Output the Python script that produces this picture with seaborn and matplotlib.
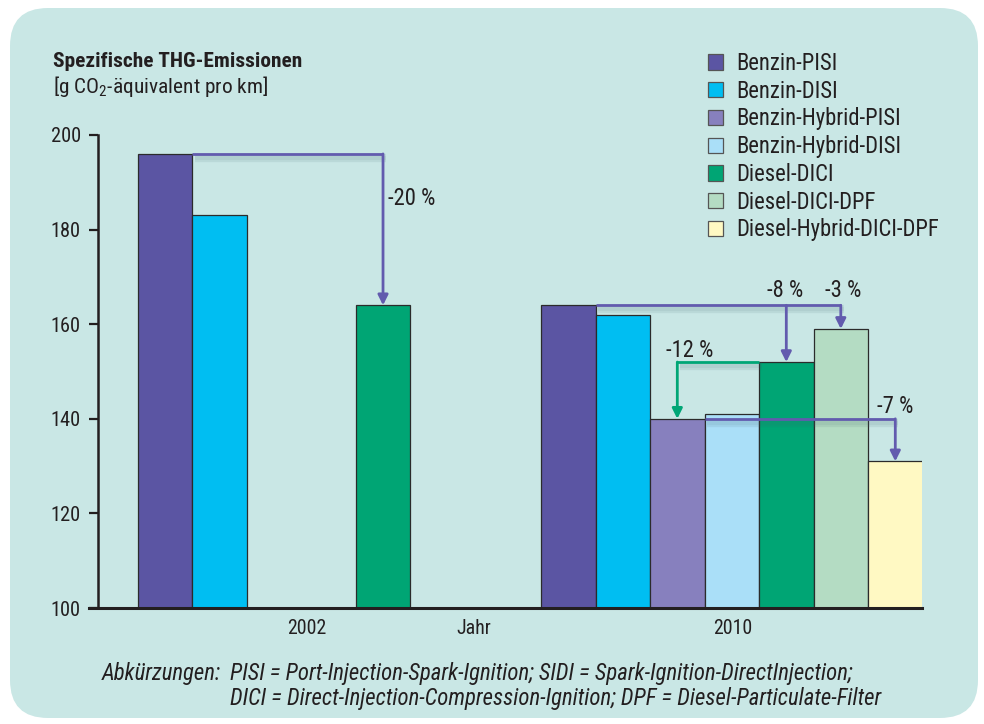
import matplotlib
matplotlib.use("Agg")
import matplotlib.pyplot as plt
import matplotlib.patheffects as pe
from matplotlib.patches import FancyBboxPatch, Patch
from matplotlib import font_manager
from matplotlib.font_manager import FontProperties
from matplotlib.textpath import TextPath
import numpy as np
import pandas as pd
import seaborn as sns

# ---------------- data ----------------
types = ["Benzin-PISI", "Benzin-DISI", "Benzin-Hybrid-PISI", "Benzin-Hybrid-DISI",
         "Diesel-DICI", "Diesel-DICI-DPF", "Diesel-Hybrid-DICI-DPF"]
colors = ["#5B55A3", "#00BEF2", "#8780BE", "#AADFF8", "#00A574", "#B4DCC3", "#FFF9C3"]
values_2002 = [196, 183, None, None, 164, None, None]
values_2010 = [164, 162, 140, 141, 152, 159, 131]
year_labels = ["2002", "Jahr", "2010"]
y_ticks = [100, 120, 140, 160, 180, 200]
pct_labels = ["-20 %", "-8 %", "-3 %", "-12 %", "-7 %"]

# ---------------- fonts ----------------
sns.set_theme(style="white")
tt = font_manager.fontManager.ttflist
chosen = None
for key in ["liberationsansnarrow", "robotocondensed", "notosanscondensed",
            "notosans-condensed", "opensanscondensed", "opensans_condensed",
            "dejavusanscondensed"]:
    for f in tt:
        p = f.fname.lower().replace(" ", "")
        if key in p.replace("_", "") or key in p:
            chosen = f
            break
    if chosen is not None:
        break
if chosen is not None:
    fam = [chosen.name, "DejaVu Sans"]
    plt.rcParams["font.stretch"] = chosen.stretch
else:
    fam = ["Liberation Sans", "DejaVu Sans"]
plt.rcParams["font.family"] = fam
plt.rcParams["mathtext.fontset"] = "custom"
plt.rcParams["mathtext.rm"] = fam[0]
plt.rcParams["mathtext.default"] = "regular"


def fit(s, target_px, **kw):
    prop = FontProperties(family=fam, stretch=plt.rcParams["font.stretch"], **kw)
    w = TextPath((0, 0), s, size=20, prop=prop).get_extents().width
    return 20 * target_px / (w * 100 / 72)


TXT = "#231F20"
PURPLE = "#625BAE"
GREEN = "#00A676"
PANEL = "#C9E7E5"

fs_leg = fit("Diesel-Hybrid-DICI-DPF", 200)
fs_tick = fit("200", 28)
fs_year = fit("2002", 37.5)
fs_pct = fit("-20 %", 46)
fs_title = fit("Spezifische THG-Emissionen", 247, weight="bold")
fs_sub = fs_title * 1.0
fs_foot = fit("PISI = Port-Injection-Spark-Ignition; SIDI = Spark-Ignition-DirectInjection;",
              622, style="italic")

fig = plt.figure(figsize=(9.84, 7.24), dpi=100, facecolor="white")
panel = FancyBboxPatch((0.10, 0.06), 9.68, 7.10,
                       boxstyle="round,pad=0,rounding_size=0.38",
                       transform=fig.dpi_scale_trans, facecolor=PANEL,
                       edgecolor="none", zorder=-5)
fig.patches.append(panel)

ax = fig.add_axes([98 / 984, 1 - 608 / 724, (922 - 98) / 984, (608 - 135) / 724])
ax.set_facecolor("none")
ax.set_zorder(2)

# bar slots (layout): 2002 group starts at 0, 2010 group at 7.4
off_2002, off_2010 = 0.0, 7.4
rows = []
for i, (t, v) in enumerate(zip(types, values_2002)):
    if v is not None:
        rows.append({"pos": off_2002 + i, "value": v, "type": t})
for i, (t, v) in enumerate(zip(types, values_2010)):
    rows.append({"pos": off_2010 + i, "value": v, "type": t})
df = pd.DataFrame(rows)

sns.barplot(data=df, x="pos", y="value", hue="type", hue_order=types,
            palette=colors, native_scale=True, dodge=False, width=1.0,
            saturation=1, edgecolor="#2B2B2B", linewidth=0.9, legend=False,
            ax=ax, zorder=2)

ax.set_ylim(100, 200)
ax.set_xlim(-1.23, 13.89)
ax.set_yticks(y_ticks)
ax.set_yticklabels([str(t) for t in y_ticks], fontsize=fs_tick, color=TXT)
ax.set_xticks([2.6, 5.66, 10.41])
ax.set_xticklabels(year_labels, fontsize=fs_year, color=TXT)
ax.set_xlabel("")
ax.set_ylabel("")
for s in ["top", "right"]:
    ax.spines[s].set_visible(False)
ax.spines["left"].set_color(TXT)
ax.spines["left"].set_linewidth(1.8)
ax.spines["bottom"].set_color(TXT)
ax.spines["bottom"].set_linewidth(2.2)
ax.spines["bottom"].set_bounds(-1.23 - 9 / 54.5, 13.89)
ax.spines["bottom"].set_clip_on(False)
ax.tick_params(axis="y", length=6.5, width=1.6, color=TXT, pad=6, left=True)
ax.tick_params(axis="x", length=0, pad=8)
ax.grid(False)

# ---------------- arrows ----------------
shadow = [pe.SimpleLineShadow(offset=(2.0, -3.0), shadow_color="#3f5f66", alpha=0.10, linewidth=6),
          pe.SimpleLineShadow(offset=(2.0, -3.0), shadow_color="#3f5f66", alpha=0.08, linewidth=3),
          pe.Normal()]


def bracket(xs, ys, color, heads):
    ax.plot(xs, ys, color=color, lw=2.0, zorder=5, solid_capstyle="butt",
            path_effects=shadow)
    for (x, y0, y1) in heads:
        ax.annotate("", xy=(x, y1), xytext=(x, y0),
                    arrowprops=dict(arrowstyle="-|>", color=color, lw=2.0,
                                    mutation_scale=15, shrinkA=0, shrinkB=0),
                    zorder=6)


p02 = values_2002
p10 = values_2010
# 2002: Benzin-PISI -> Diesel-DICI
bracket([off_2002 + 0.5, off_2002 + 4], [p02[0], p02[0]], PURPLE,
        [(off_2002 + 4, p02[0], p02[4])])
# 2010: Benzin-PISI -> Diesel-DICI and Diesel-DICI-DPF
bracket([off_2010 + 0.5, off_2010 + 5], [p10[0], p10[0]], PURPLE,
        [(off_2010 + 4, p10[0], p10[4]), (off_2010 + 5, p10[0], p10[5])])
# 2010: Diesel-DICI -> Benzin-Hybrid-PISI
bracket([off_2010 + 3.5, off_2010 + 2], [p10[4], p10[4]], GREEN,
        [(off_2010 + 2, p10[4], p10[2])])
# 2010: Benzin-Hybrid-PISI -> Diesel-Hybrid-DICI-DPF
bracket([off_2010 + 2.5, off_2010 + 6], [p10[2], p10[2]], PURPLE,
        [(off_2010 + 6, p10[2], p10[6])])

lbl_kw = dict(fontsize=fs_pct, color=TXT, va="center", zorder=7)
ax.text(off_2002 + 4.1, 186.5, pct_labels[0], ha="left", **lbl_kw)
ax.text(off_2010 + 3.98, 167.1, pct_labels[1], ha="center", **lbl_kw)
ax.text(off_2010 + 5.05, 167.1, pct_labels[2], ha="center", **lbl_kw)
ax.text(off_2010 + 2.23, 154.5, pct_labels[3], ha="center", **lbl_kw)
ax.text(off_2010 + 6.0, 142.7, pct_labels[4], ha="center", **lbl_kw)

# ---------------- titles ----------------
fig.text(53 / 984, 1 - 67 / 724, "Spezifische THG-Emissionen", fontsize=fs_title,
         fontweight="bold", color=TXT, va="baseline", ha="left")
fig.text(53 / 984, 1 - 93 / 724, "[g CO$_2$-äquivalent pro km]", fontsize=fs_sub,
         color=TXT, va="baseline", ha="left")

# ---------------- legend ----------------
fs_px = fs_leg * 100 / 72
handles = [Patch(facecolor=c, edgecolor="#555555", linewidth=0.9) for c in colors]
fig.legend(handles, types, loc="upper left", bbox_to_anchor=(708 / 984, 1 - 52 / 724),
           frameon=False, fontsize=fs_leg, handlelength=15 / fs_px, handleheight=15 / fs_px,
           handletextpad=13 / fs_px,
           labelspacing=max(0.05, (27.6 - 1.16 * fs_px) / fs_px) + 3.3 / fs_px,
           borderpad=0, borderaxespad=0, labelcolor=TXT)

# ---------------- footnote ----------------
fig.text(102 / 984, 1 - 680 / 724, "Abkürzungen:", fontsize=fs_foot, style="italic",
         color=TXT, va="baseline", ha="left")
fig.text(230 / 984, 1 - 680 / 724,
         "PISI = Port-Injection-Spark-Ignition; SIDI = Spark-Ignition-DirectInjection;",
         fontsize=fs_foot, style="italic", color=TXT, va="baseline", ha="left")
fig.text(230 / 984, 1 - 705 / 724,
         "DICI = Direct-Injection-Compression-Ignition; DPF = Diesel-Particulate-Filter",
         fontsize=fs_foot, style="italic", color=TXT, va="baseline", ha="left")

fig.savefig("out.png", dpi=100, facecolor="white")
